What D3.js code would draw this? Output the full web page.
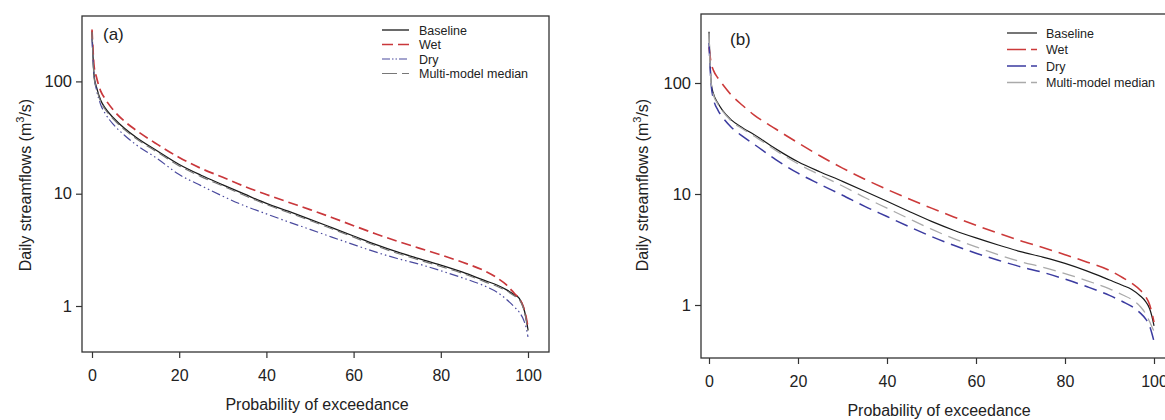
<!DOCTYPE html>
<html>
<head>
<meta charset="utf-8">
<script src="https://cdn.jsdelivr.net/npm/d3@7/dist/d3.min.js"></script>
<style>
  html, body { margin: 0; padding: 0; background: #fff; }
  svg { display: block; font-family: "Liberation Sans", Arial, sans-serif; }
</style>
</head>
<body>
<svg id="chart" width="1165" height="420"></svg>
<script>
// Exceedance probabilities (%) at which each flow duration curve is sampled
const probability = [0, 0.5, 1, 2, 3, 5, 7.5, 10, 15, 20, 25, 30, 35, 40, 45, 50, 55, 60, 65, 70, 75, 80, 85, 90, 93, 95, 97, 98, 99, 99.5, 100];

// Panel (a) daily streamflows (m3/s)
const aBaseline = [280, 110, 90, 68, 58, 47, 38, 32, 24, 18.2, 14.6, 12, 9.9, 8.2, 6.98, 5.92, 4.99, 4.2, 3.54, 3.03, 2.64, 2.31, 2.0, 1.69, 1.53, 1.40, 1.25, 1.17, 0.96, 0.80, 0.61];
const aWet      = [290, 135, 110, 82, 70, 55, 44, 37, 27.5, 21, 16.8, 14, 11.6, 9.83, 8.41, 7.22, 6.14, 5.19, 4.40, 3.78, 3.28, 2.85, 2.45, 2.06, 1.77, 1.55, 1.28, 1.16, 0.97, 0.82, 0.65];
const aDry      = [240, 110, 85, 62, 52, 41, 33, 27.5, 20.5, 14.8, 11.8, 9.5, 7.8, 6.61, 5.62, 4.81, 4.11, 3.52, 3.03, 2.65, 2.36, 2.06, 1.78, 1.51, 1.32, 1.15, 0.97, 0.88, 0.75, 0.66, 0.53];
const aMedian   = [275, 106, 87.5, 66, 56.5, 45.8, 37, 31.2, 23.4, 17.7, 14.2, 11.7, 9.65, 8.0, 6.8, 5.77, 4.87, 4.1, 3.45, 2.95, 2.57, 2.25, 1.95, 1.65, 1.49, 1.37, 1.22, 1.14, 0.94, 0.78, 0.6];

// Panel (b) daily streamflows (m3/s)
const bBaseline = [290, 100, 80, 66, 57, 46.5, 39.5, 34.5, 25.5, 19.5, 15.8, 13.0, 10.6, 8.59, 6.95, 5.67, 4.72, 4.02, 3.47, 3.03, 2.70, 2.37, 2.02, 1.68, 1.50, 1.38, 1.2, 1.09, 0.93, 0.8, 0.65];
const bWet      = [210, 150, 130, 111, 98, 78, 63, 52, 38.5, 28.9, 22.0, 17.1, 13.6, 11.0, 9.02, 7.46, 6.22, 5.22, 4.43, 3.80, 3.30, 2.84, 2.43, 2.05, 1.76, 1.57, 1.35, 1.21, 1.01, 0.86, 0.7];
const bDry      = [230, 95, 72, 57, 49.5, 40, 33.2, 28.3, 20.4, 15.4, 12.2, 9.75, 7.74, 6.27, 5.07, 4.14, 3.45, 2.93, 2.53, 2.21, 1.97, 1.71, 1.46, 1.22, 1.07, 0.97, 0.84, 0.76, 0.65, 0.56, 0.47];
const bMedian   = [280, 98, 78, 64.5, 56, 45.5, 38.7, 33.6, 24.7, 18.7, 14.8, 11.8, 9.3, 7.46, 5.98, 4.82, 3.96, 3.34, 2.84, 2.46, 2.19, 1.92, 1.65, 1.40, 1.23, 1.12, 0.96, 0.85, 0.71, 0.64, 0.58];

// Axis ticks and labels
const xTicks = [0, 20, 40, 60, 80, 100];
const yTicks = [1, 10, 100];
const seriesNames = ["Baseline", "Wet", "Dry", "Multi-model median"];
const xTitle = "Probability of exceedance";

const svg = d3.select("#chart");

function drawPanel(cfg) {
  const g = svg.append("g");
  const x = d3.scaleLinear().domain([0, 100]).range([cfg.x0, cfg.x100]);
  const y = d3.scaleLog().domain([1, 100]).range([cfg.y1, cfg.y100]);

  // clip region for curves
  const clipId = "clip-" + cfg.label.replace(/[()]/g, "");
  svg.append("clipPath").attr("id", clipId)
    .append("rect").attr("x", cfg.left).attr("y", cfg.top)
    .attr("width", cfg.right - cfg.left).attr("height", cfg.bottom - cfg.top);

  const line = d3.line()
    .x((d, i) => x(probability[i]))
    .y(d => y(d))
    .curve(d3.curveMonotoneX);

  const curves = g.append("g").attr("clip-path", `url(#${clipId})`);
  cfg.series.forEach(s => {
    curves.append("path")
      .datum(s.values)
      .attr("d", line)
      .attr("fill", "none")
      .attr("stroke", s.color)
      .attr("stroke-width", s.width)
      .attr("stroke-dasharray", s.dash || null);
  });

  // frame
  g.append("rect")
    .attr("x", cfg.left).attr("y", cfg.top)
    .attr("width", cfg.right - cfg.left).attr("height", cfg.bottom - cfg.top)
    .attr("fill", "none").attr("stroke", "#333").attr("stroke-width", 1.3);

  // x axis
  const xAxis = d3.axisBottom(x).tickValues(xTicks).tickSize(6).tickPadding(12).tickFormat(d3.format("d"));
  const xg = g.append("g").attr("transform", `translate(0,${cfg.bottom})`).call(xAxis);
  xg.select(".domain").remove();
  xg.selectAll(".tick line").attr("stroke", "#333").attr("stroke-width", 1.2);
  xg.selectAll(".tick text").attr("font-size", 16).attr("fill", "#222")
    .attr("font-family", "Liberation Sans, Arial, sans-serif");

  // y axis
  const yAxis = d3.axisLeft(y).tickValues(yTicks).tickSize(6).tickPadding(4).tickFormat(d3.format("d"));
  const yg = g.append("g").attr("transform", `translate(${cfg.left},0)`).call(yAxis);
  yg.select(".domain").remove();
  yg.selectAll(".tick line").attr("stroke", "#333").attr("stroke-width", 1.2);
  yg.selectAll(".tick text").attr("font-size", 16.5).attr("fill", "#222")
    .attr("font-family", "Liberation Sans, Arial, sans-serif");

  // axis titles
  g.append("text")
    .attr("x", cfg.xTitleX).attr("y", cfg.xTitleY)
    .attr("text-anchor", "middle").attr("font-size", 16).attr("fill", "#222")
    .text(xTitle);

  const yt = g.append("text")
    .attr("transform", `translate(${cfg.yTitleX},${cfg.yTitleY}) rotate(-90)`)
    .attr("text-anchor", "middle").attr("font-size", 16).attr("fill", "#222");
  yt.append("tspan").text("Daily streamflows (m");
  yt.append("tspan").attr("font-size", 11).attr("dy", -7).text("3");
  yt.append("tspan").attr("dy", 7).text("/s)");

  // panel label
  g.append("text")
    .attr("x", cfg.labelX).attr("y", cfg.labelY)
    .attr("font-size", 17).attr("fill", "#222")
    .text(cfg.label);

  // legend
  const leg = g.append("g");
  cfg.series.forEach((s, i) => {
    const ly = cfg.legY + i * cfg.legStep;
    leg.append("line")
      .attr("x1", cfg.legX1).attr("x2", cfg.legX2)
      .attr("y1", ly).attr("y2", ly)
      .attr("stroke", s.color).attr("stroke-width", s.legWidth || s.width)
      .attr("stroke-dasharray", s.legDash || s.dash || null);
    leg.append("text")
      .attr("x", cfg.legTextX).attr("y", ly + 4.5)
      .attr("font-size", 12.5).attr("fill", "#222")
      .text(seriesNames[i]);
  });
}

drawPanel({
  label: "(a)", labelX: 103, labelY: 40,
  left: 82, right: 549, top: 16, bottom: 352,
  x0: 92, x100: 528, y1: 306, y100: 81.4,
  xTitleX: 317, xTitleY: 410, yTitleX: 31, yTitleY: 185,
  legX1: 382, legX2: 409, legTextX: 419, legY: 30, legStep: 14.5,
  series: [
    { values: aBaseline, color: "#1a1a1a", width: 1.3 },
    { values: aWet, color: "#c9373b", width: 1.7, dash: "10,5", legDash: "11,5" },
    { values: aDry, color: "#4a4a9e", width: 1.2, dash: "9,3,1.5,3,1.5,3", legDash: "8,2,1.5,2,1.5,2" },
    { values: aMedian, color: "#777777", width: 1.2, dash: "10,5", legDash: "15,5" }
  ]
});

drawPanel({
  label: "(b)", labelX: 730, labelY: 45,
  left: 701, right: 1178, top: 14, bottom: 358,
  x0: 709, x100: 1154, y1: 305, y100: 83,
  xTitleX: 939, xTitleY: 416, yTitleX: 648, yTitleY: 185,
  legX1: 1007, legX2: 1037, legTextX: 1046, legY: 33, legStep: 16.5,
  series: [
    { values: bBaseline, color: "#1a1a1a", width: 1.2 },
    { values: bWet, color: "#cc3a3a", width: 1.6, dash: "13,7", legDash: "19,5" },
    { values: bDry, color: "#3b3ba0", width: 1.5, dash: "13,7", legDash: "19,5" },
    { values: bMedian, color: "#aaaaaa", width: 1.3, dash: "13,7", legDash: "19,5" }
  ]
});
</script>
</body>
</html>
